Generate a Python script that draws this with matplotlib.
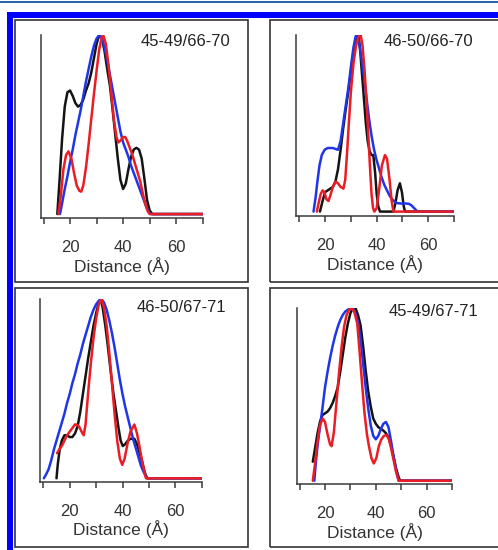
import matplotlib
matplotlib.use("Agg")
import matplotlib.pyplot as plt
from matplotlib.patches import Rectangle

W, H = 498, 550

# ---- data (distance in A, normalised probability) ----
titles = ["45-49/66-70", "46-50/66-70", "46-50/67-71", "45-49/67-71"]
tick_values = [10, 20, 30, 40, 50, 60, 70]
tick_labels = ["", "20", "", "40", "", "60", ""]

tl_black_x = [15.2, 16, 17, 18, 19, 20, 21, 22, 23, 24, 25, 26, 27, 28, 29, 30, 31, 32, 33, 34, 35, 36,
              37, 38, 39, 40, 41, 42, 43, 44, 45, 46, 47, 48, 49, 50, 51, 70]
tl_black_y = [0, 0.18, 0.42, 0.60, 0.68, 0.69, 0.66, 0.62, 0.60, 0.61, 0.64, 0.69, 0.73, 0.79, 0.87, 0.95,
              1.0, 0.98, 0.91, 0.81, 0.72, 0.59, 0.45, 0.31, 0.19, 0.14, 0.17, 0.25, 0.32, 0.36, 0.37, 0.36,
              0.31, 0.20, 0.08, 0.02, 0, 0]
tl_blue_x = [16.2, 17, 18, 19, 20, 21, 22, 23, 24, 25, 26, 27, 28, 29, 30, 31, 32, 33, 34, 35, 36, 37,
             38, 39, 40, 41, 42, 43, 44, 45, 46, 47, 48, 49, 50, 50.5, 70]
tl_blue_y = [0, 0.06, 0.14, 0.21, 0.29, 0.36, 0.44, 0.51, 0.58, 0.66, 0.74, 0.81, 0.88, 0.94, 0.98, 1.0,
             0.98, 0.93, 0.86, 0.78, 0.70, 0.62, 0.54, 0.46, 0.40, 0.36, 0.32, 0.27, 0.23, 0.19, 0.15,
             0.11, 0.07, 0.03, 0.005, 0, 0]
tl_red_x = [15.6, 16.5, 17.5, 18.5, 19.4, 20.5, 21.5, 22.5, 23.5, 24.2, 25, 26, 27, 28, 29, 30, 31, 32,
            32.5, 33.5, 34.5, 35.5, 36.5, 37.5, 38.2, 39, 40, 40.8, 41.5, 42.5, 43.5, 44.5, 45.5, 46.5,
            47.5, 48.5, 49.3, 50, 70]
tl_red_y = [0, 0.10, 0.25, 0.33, 0.35, 0.31, 0.23, 0.16, 0.13, 0.125, 0.16, 0.26, 0.39, 0.53, 0.67, 0.80,
            0.92, 0.99, 1.0, 0.95, 0.83, 0.68, 0.53, 0.43, 0.40, 0.41, 0.43, 0.43, 0.41, 0.37, 0.33, 0.28,
            0.23, 0.18, 0.11, 0.05, 0.015, 0, 0]

tr_black_x = [18, 19, 20, 21, 22, 23, 24, 25, 26, 27, 28, 29, 30, 31, 32, 32.9, 33.5, 34.3, 35, 35.8,
              36.5, 37.3, 38, 38.7, 39.4, 40, 40.6, 41.3, 46.5, 47.3, 48.1, 49, 49.8, 50.5, 51, 70]
tr_black_y = [0, 0.06, 0.11, 0.12, 0.13, 0.14, 0.17, 0.24, 0.35, 0.47, 0.58, 0.68, 0.79, 0.90, 0.98, 1.0,
              0.93, 0.78, 0.65, 0.50, 0.40, 0.34, 0.32, 0.32, 0.22, 0.10, 0.03, 0, 0, 0.05, 0.12, 0.16,
              0.11, 0.03, 0, 0]
tr_blue_x = [15.5, 16.3, 17, 17.8, 18.7, 19.8, 21, 22, 23, 24, 25, 26, 27, 28, 29, 30, 31, 31.8, 32.3,
             33, 34, 35, 36, 37, 38, 39, 40, 41, 42, 43, 44, 45, 46, 47, 48, 49.7, 51, 52.5, 53.5, 54.5,
             55.5, 56, 70]
tr_blue_y = [0, 0.08, 0.17, 0.26, 0.32, 0.35, 0.36, 0.36, 0.36, 0.355, 0.35, 0.40, 0.50, 0.60, 0.70,
             0.82, 0.93, 0.99, 1.0, 0.97, 0.88, 0.77, 0.65, 0.53, 0.43, 0.35, 0.29, 0.24, 0.19, 0.15,
             0.12, 0.09, 0.07, 0.055, 0.048, 0.045, 0.046, 0.044, 0.035, 0.02, 0.005, 0, 0]
tr_red_x = [16.8, 17.5, 18.3, 19, 19.7, 20.5, 21.3, 22, 23, 24.1, 25, 26, 27.1, 27.8, 28.5, 29.2, 30, 31,
            32, 33, 33.8, 34.5, 35.3, 36, 36.7, 37.3, 38, 38.6, 39.1, 40, 41, 42, 43.2, 44, 45, 45.8,
            46.5, 70]
tr_red_y = [0, 0.05, 0.10, 0.12, 0.11, 0.07, 0.06, 0.09, 0.14, 0.17, 0.16, 0.14, 0.13, 0.18, 0.33, 0.50,
            0.68, 0.84, 0.94, 0.99, 1.0, 0.94, 0.80, 0.64, 0.45, 0.28, 0.10, 0.02, 0, 0.02, 0.13, 0.26,
            0.32, 0.30, 0.18, 0.06, 0, 0]

bl_black_x = [15, 15.5, 16.2, 17, 18, 19, 20, 21, 22, 23, 24, 25, 26, 27, 28, 29, 30, 31, 31.7, 32.5,
              33.5, 34.5, 35.5, 36.5, 37.5, 38.5, 39.3, 40.1, 41, 42, 43, 44.5, 45.5, 46.5, 47.5, 48.5,
              49.3, 70]
bl_black_y = [0, 0.08, 0.16, 0.21, 0.24, 0.24, 0.23, 0.23, 0.25, 0.29, 0.37, 0.47, 0.57, 0.67, 0.76,
              0.85, 0.92, 0.98, 1.0, 0.95, 0.85, 0.73, 0.60, 0.48, 0.38, 0.28, 0.21, 0.18, 0.19, 0.21,
              0.22, 0.22, 0.19, 0.14, 0.09, 0.03, 0, 0]
bl_blue_x = [10.2, 11, 12, 13, 14, 15, 16, 17, 18, 19, 20, 21, 22, 23, 24, 25, 26, 27, 28, 29, 30, 31,
             32, 33, 34, 35, 36, 37, 38, 39, 40, 41, 42, 43, 44, 45, 46, 47, 48, 49, 49.6, 70]
bl_blue_y = [0, 0.02, 0.05, 0.10, 0.16, 0.21, 0.26, 0.31, 0.36, 0.42, 0.47, 0.53, 0.58, 0.64, 0.69,
             0.75, 0.80, 0.85, 0.90, 0.94, 0.97, 0.99, 1.0, 0.98, 0.94, 0.88, 0.81, 0.73, 0.64, 0.55,
             0.47, 0.40, 0.34, 0.28, 0.22, 0.17, 0.12, 0.07, 0.035, 0.01, 0, 0]
bl_red_x = [15.2, 16, 17, 18, 19, 20, 21, 22, 22.5, 23.5, 24.5, 25.3, 26, 27, 28, 29, 30, 31, 32, 33, 34,
            35, 36, 37, 38, 39, 39.9, 40.8, 42, 43, 44.5, 45.5, 46.4, 47.5, 48.5, 48.9, 70]
bl_red_y = [0.14, 0.16, 0.18, 0.21, 0.24, 0.26, 0.28, 0.30, 0.30, 0.29, 0.26, 0.24, 0.30, 0.48, 0.64,
            0.78, 0.89, 0.97, 1.0, 0.95, 0.85, 0.70, 0.53, 0.36, 0.21, 0.11, 0.075, 0.11, 0.20, 0.26,
            0.30, 0.25, 0.18, 0.09, 0.02, 0, 0]

br_black_x = [15.2, 16, 17, 18, 19, 20, 21, 22, 23, 24, 25, 26, 27, 28, 29, 30, 31, 32, 33, 34, 35, 36,
              37, 38, 39, 40, 41, 42, 43, 44, 45, 46, 47, 48, 49, 49.6, 70]
br_black_y = [0.11, 0.18, 0.27, 0.34, 0.38, 0.39, 0.40, 0.42, 0.45, 0.49, 0.54, 0.63, 0.73, 0.83, 0.91,
              0.97, 1.0, 1.0, 0.96, 0.90, 0.78, 0.64, 0.52, 0.43, 0.36, 0.33, 0.31, 0.30, 0.29, 0.275,
              0.25, 0.20, 0.14, 0.07, 0.02, 0, 0]
br_blue_x = [15.8, 16.5, 17.2, 18, 19, 20, 21, 22, 23, 24, 25, 26, 27, 28, 29, 30, 31, 32, 33, 34, 35,
             36, 37, 38, 39, 40, 41, 42, 43, 44, 45, 46, 47, 48, 49, 70]
br_blue_y = [0, 0.12, 0.22, 0.31, 0.42, 0.54, 0.63, 0.71, 0.78, 0.84, 0.89, 0.93, 0.96, 0.98, 0.99, 1.0,
             1.0, 0.97, 0.92, 0.82, 0.68, 0.54, 0.42, 0.32, 0.26, 0.24, 0.26, 0.30, 0.33, 0.34, 0.31,
             0.23, 0.14, 0.06, 0, 0]
br_red_x = [15.2, 16, 17, 18, 19.1, 20, 21, 22, 22.6, 23.5, 24.5, 25.5, 26.5, 27.5, 28.5, 29.5, 30.4,
            31.5, 32.7, 33.5, 34.5, 35.5, 36.5, 37.3, 38.3, 39.2, 40.2, 41.2, 42.2, 43.2, 44.2, 45.2, 46,
            47, 48, 49, 70]
br_red_y = [0, 0.09, 0.22, 0.32, 0.36, 0.34, 0.27, 0.21, 0.20, 0.28, 0.45, 0.62, 0.77, 0.89, 0.96, 0.99,
            1.0, 0.98, 0.91, 0.77, 0.58, 0.40, 0.27, 0.20, 0.13, 0.10, 0.13, 0.20, 0.24, 0.26, 0.265,
            0.24, 0.19, 0.12, 0.05, 0, 0]

BLACK = "#141414"
BLUE = "#1f35e8"
RED = "#ec1c24"


def fig_rect(fig, x0, y0, x1, y1, **kw):
    # rectangle given in pixels, origin at top left
    r = Rectangle((x0 / W, 1 - y1 / H), (x1 - x0) / W, (y1 - y0) / H,
                  transform=fig.transFigure, **kw)
    fig.add_artist(r)


def panel(fig, box, title, title_pos, xmin, ymin, series):
    left, top, right, bottom = box
    ax = fig.add_axes([left / W, 1 - bottom / H, (right - left) / W, (bottom - top) / H])
    for xs, ys, c in series:
        ax.plot(xs, ys, color=c, lw=1.8, solid_joinstyle="round", solid_capstyle="round")
    ax.set_xlim(xmin, 70)
    ax.set_ylim(ymin, 1.0)
    ax.patch.set_alpha(0)
    for s in ["top", "right"]:
        ax.spines[s].set_visible(False)
    for s in ["left", "bottom"]:
        ax.spines[s].set_color("#3a3a3a")
        ax.spines[s].set_linewidth(1.1)
    ax.set_yticks([])
    ax.set_xticks(tick_values)
    ax.set_xticklabels(tick_labels)
    ax.tick_params(axis="x", direction="out", length=4, width=1.1, color="#3a3a3a",
                   pad=12, labelsize=12, labelcolor="#333333")
    ax.set_xlabel("Distance (Å)", fontsize=12.5, color="#333333", labelpad=1)
    fig.text(title_pos[0] / W, 1 - title_pos[1] / H, title, ha="right", va="center",
             fontsize=12, color="#222222")
    return ax


def main():
    plt.rcParams["font.family"] = ["Liberation Sans", "DejaVu Sans"]
    fig = plt.figure(figsize=(W / 100, H / 100), dpi=100)

    # frame around the figure
    fig_rect(fig, 0, 1, W, 2.5, color="#2a63b0", lw=0)
    fig_rect(fig, 7, 12, W, 17.5, color="#0000ff", lw=0)
    fig_rect(fig, 7, 12, 12.5, H, color="#0000ff", lw=0)

    # panel boxes
    box_kw = dict(fill=False, edgecolor="#333333", lw=1.2)
    fig_rect(fig, 15, 20, 248, 282, **box_kw)
    fig_rect(fig, 270, 20, 505, 282, **box_kw)
    fig_rect(fig, 15, 288, 248, 547, **box_kw)
    fig_rect(fig, 270, 288, 505, 547, **box_kw)

    panel(fig, (41, 35, 202.7, 218), titles[0], (230, 42), 9.05, -0.022,
          [(tl_black_x, tl_black_y, BLACK), (tl_blue_x, tl_blue_y, BLUE), (tl_red_x, tl_red_y, RED)])
    panel(fig, (296, 35, 454, 216), titles[1], (473, 42), 8.7, -0.025,
          [(tr_black_x, tr_black_y, BLACK), (tr_blue_x, tr_blue_y, BLUE), (tr_red_x, tr_red_y, RED)])
    panel(fig, (40, 299, 201.7, 481.7), titles[2], (226, 308), 8.75, -0.019,
          [(bl_black_x, bl_black_y, BLACK), (bl_blue_x, bl_blue_y, BLUE), (bl_red_x, bl_red_y, RED)])
    panel(fig, (297.3, 308, 452, 484), titles[3], (478, 312), 9.1, -0.019,
          [(br_black_x, br_black_y, BLACK), (br_blue_x, br_blue_y, BLUE), (br_red_x, br_red_y, RED)])

    fig.savefig("out.png", dpi=100)


if __name__ == "__main__":
    main()
